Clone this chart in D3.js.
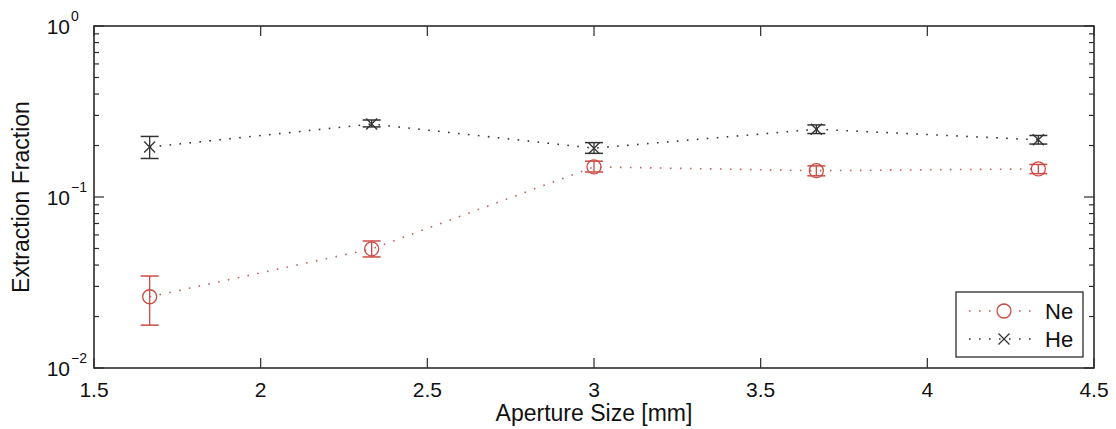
<!DOCTYPE html>
<html>
<head>
<meta charset="utf-8">
<title>Extraction Fraction vs Aperture Size</title>
<script src="https://d3js.org/d3.v7.min.js"></script>
<style>
  body { margin: 0; background: #fff; }
  text { font-family: "Liberation Sans", Arial, sans-serif; fill: #111; }
</style>
</head>
<body>
<svg id="chart" width="1116" height="429"></svg>
<script>
// data
var aperture = [1.667, 2.333, 3.0, 3.667, 4.333];
var neValue = [0.0261, 0.0497, 0.150, 0.1425, 0.146];
var neLow   = [0.0178, 0.0446, 0.140, 0.133, 0.137];
var neHigh  = [0.0345, 0.0553, 0.162, 0.152, 0.155];
var heValue = [0.196, 0.267, 0.193, 0.249, 0.216];
var heLow   = [0.168, 0.257, 0.180, 0.235, 0.204];
var heHigh  = [0.226, 0.282, 0.208, 0.264, 0.229];
var xTicks = [1.5, 2, 2.5, 3, 3.5, 4, 4.5];
var yDecades = [0, -1, -2];
var seriesNames = ["Ne", "He"];

var margin = { left: 94, top: 26, right: 22, bottom: 61 };
var width = 1116, height = 429;
var plotW = width - margin.left - margin.right;
var plotH = height - margin.top - margin.bottom;

var svg = d3.select("#chart");
var g = svg.append("g").attr("transform", "translate(" + margin.left + "," + margin.top + ")");

var x = d3.scaleLinear().domain([1.5, 4.5]).range([0, plotW]);
var y = d3.scaleLog().domain([0.01, 1]).range([plotH, 0]);

var ink = "#2b2b2b";
var red = "#cc4b45";
var gray = "#333333";

// minor log ticks
var minor = [];
[0.01, 0.1].forEach(function (base) {
    for (var k = 2; k <= 9; k++) minor.push(base * k);
});

// ticks inside, left and right
minor.forEach(function (v) {
    g.append("line").attr("x1", 0).attr("x2", 5).attr("y1", y(v)).attr("y2", y(v))
        .attr("stroke", ink).attr("stroke-width", 1.2);
    g.append("line").attr("x1", plotW).attr("x2", plotW - 5).attr("y1", y(v)).attr("y2", y(v))
        .attr("stroke", ink).attr("stroke-width", 1.2);
});
yDecades.forEach(function (e) {
    var v = Math.pow(10, e);
    g.append("line").attr("x1", 0).attr("x2", 10).attr("y1", y(v)).attr("y2", y(v))
        .attr("stroke", ink).attr("stroke-width", 1.2);
    g.append("line").attr("x1", plotW).attr("x2", plotW - 10).attr("y1", y(v)).attr("y2", y(v))
        .attr("stroke", ink).attr("stroke-width", 1.2);
    svg.append("text")
        .attr("x", margin.left - 24)
        .attr("y", margin.top + y(v) + 8)
        .attr("text-anchor", "end")
        .style("font-size", "21px")
        .text("10");
    svg.append("text")
        .attr("x", margin.left - 23)
        .attr("y", margin.top + y(v) - 5)
        .attr("text-anchor", "start")
        .style("font-size", "14px")
        .text(e === 0 ? "0" : "\u2212" + (-e));
});

xTicks.forEach(function (v) {
    g.append("line").attr("x1", x(v)).attr("x2", x(v)).attr("y1", plotH).attr("y2", plotH - 10)
        .attr("stroke", ink).attr("stroke-width", 1.2);
    g.append("line").attr("x1", x(v)).attr("x2", x(v)).attr("y1", 0).attr("y2", 10)
        .attr("stroke", ink).attr("stroke-width", 1.2);
    g.append("text")
        .attr("x", x(v))
        .attr("y", plotH + 29)
        .attr("text-anchor", "middle")
        .style("font-size", "21px")
        .text(v);
});

// frame
g.append("rect").attr("x", 0).attr("y", 0).attr("width", plotW).attr("height", plotH)
    .attr("fill", "none").attr("stroke", ink).attr("stroke-width", 1.6);

// axis titles
svg.append("text")
    .attr("x", margin.left + plotW / 2)
    .attr("y", height - 8)
    .attr("text-anchor", "middle")
    .style("font-size", "23px")
    .text("Aperture Size [mm]");

svg.append("text")
    .attr("transform", "translate(29," + (margin.top + plotH / 2) + ") rotate(-90)")
    .attr("text-anchor", "middle")
    .style("font-size", "23px")
    .text("Extraction Fraction");

var dotted = "1.6,8.4";

function drawSeries(vals, lo, hi, color, dotColor, marker) {
    var line = d3.line().x(function (d, i) { return x(aperture[i]); }).y(function (d) { return y(d); });
    g.append("path").datum(vals).attr("d", line)
        .attr("fill", "none").attr("stroke", dotColor).attr("stroke-width", 1.6)
        .attr("stroke-dasharray", dotted);
    vals.forEach(function (v, i) {
        var cx = x(aperture[i]);
        var cap = 9;
        g.append("line").attr("x1", cx).attr("x2", cx).attr("y1", y(lo[i])).attr("y2", y(hi[i]))
            .attr("stroke", color).attr("stroke-width", 1.3);
        [lo[i], hi[i]].forEach(function (b) {
            g.append("line").attr("x1", cx - cap).attr("x2", cx + cap).attr("y1", y(b)).attr("y2", y(b))
                .attr("stroke", color).attr("stroke-width", 1.5);
        });
        marker(cx, y(v), color);
    });
}

function circleMarker(cx, cy, color) {
    g.append("circle").attr("cx", cx).attr("cy", cy).attr("r", 7)
        .attr("fill", "none").attr("stroke", color).attr("stroke-width", 1.3);
}
function crossMarker(cx, cy, color) {
    var s = 5.5;
    g.append("path")
        .attr("d", "M" + (cx - s) + "," + (cy - s) + "L" + (cx + s) + "," + (cy + s) +
            "M" + (cx - s) + "," + (cy + s) + "L" + (cx + s) + "," + (cy - s))
        .attr("stroke", color).attr("stroke-width", 1.3);
}

drawSeries(heValue, heLow, heHigh, gray, "#333", crossMarker);
drawSeries(neValue, neLow, neHigh, red, "#c0645f", circleMarker);

// legend
var lg = svg.append("g").attr("transform", "translate(956,292)");
lg.append("rect").attr("width", 127).attr("height", 65)
    .attr("fill", "#fff").attr("stroke", ink).attr("stroke-width", 1.3);
var legendRows = [
    { name: seriesNames[0], color: red, dot: "#c0645f", marker: "circle", cy: 19 },
    { name: seriesNames[1], color: gray, dot: "#333", marker: "cross", cy: 47 }
];
legendRows.forEach(function (r) {
    lg.append("line").attr("x1", 13).attr("x2", 78).attr("y1", r.cy).attr("y2", r.cy)
        .attr("stroke", r.dot).attr("stroke-width", 1.6).attr("stroke-dasharray", dotted);
    if (r.marker === "circle") {
        lg.append("circle").attr("cx", 48).attr("cy", r.cy).attr("r", 7)
            .attr("fill", "#fff").attr("stroke", r.color).attr("stroke-width", 1.3);
    } else {
        var s = 5.5;
        lg.append("path")
            .attr("d", "M" + (48 - s) + "," + (r.cy - s) + "L" + (48 + s) + "," + (r.cy + s) +
                "M" + (48 - s) + "," + (r.cy + s) + "L" + (48 + s) + "," + (r.cy - s))
            .attr("stroke", r.color).attr("stroke-width", 1.3);
    }
    lg.append("text").attr("x", 89).attr("y", r.cy + 8)
        .style("font-size", "22px").text(r.name);
});
</script>
</body>
</html>
